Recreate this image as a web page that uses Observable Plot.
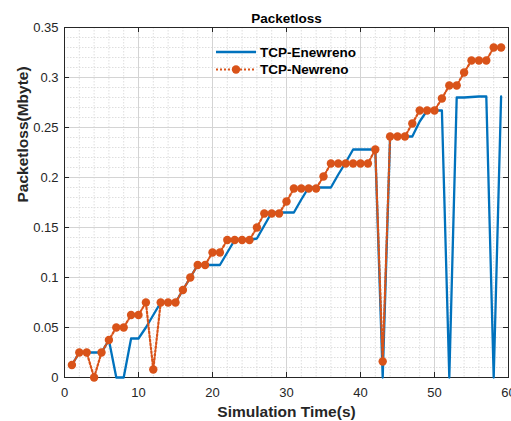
<!DOCTYPE html>
<html><head><meta charset="utf-8">
<script src="https://cdn.jsdelivr.net/npm/d3@7"></script>
<script src="https://cdn.jsdelivr.net/npm/@observablehq/plot@0.6"></script>
<style>
body{margin:0;background:#fff;}
#wrap{position:relative;width:511px;height:421px;}
#legend{position:absolute;left:0;top:0;pointer-events:none;}
</style></head><body><div id="wrap"></div>
<script>
const times = [1,2,3,4,5,6,7,8,9,10,11,12,13,14,15,16,17,18,19,20,21,22,23,24,25,26,27,28,29,30,31,32,33,34,35,36,37,38,39,40,41,42,43,44,45,46,47,48,49,50,51,52,53,54,55,56,57,58,59];
const enewreno = [0.0125,0.025,0.025,0.025,0.025,0.0375,0,0,0.039,0.039,
  0.05,0.0625,0.075,0.075,0.075,0.0875,0.1,0.1125,0.1125,0.1125,
  0.1125,0.125,0.1375,0.1375,0.1375,0.139,0.152,0.165,0.165,0.165,
  0.165,0.178,0.19,0.19,0.19,0.19,0.203,0.215,0.228,0.228,
  0.228,0.228,0,0.241,0.241,0.241,0.241,0.256,0.267,0.267,
  0.267,0,0.28,0.28,0.2805,0.281,0.281,0,0.281];
const newreno = [0.0125,0.025,0.025,0,0.025,0.0375,0.05,0.05,0.0625,0.0625,
  0.075,0.008,0.075,0.075,0.075,0.0875,0.1,0.1125,0.1125,0.125,
  0.125,0.1375,0.1375,0.1375,0.1375,0.15,0.164,0.164,0.164,0.176,
  0.189,0.189,0.189,0.189,0.201,0.214,0.214,0.214,0.214,0.214,
  0.214,0.228,0.016,0.241,0.241,0.241,0.254,0.267,0.267,0.267,
  0.279,0.292,0.292,0.305,0.317,0.317,0.317,0.33,0.33];
const seriesNames = ["TCP-Enewreno","TCP-Newreno"];
const seriesColors = ["#0072BD","#D95319"];
const xTicks = [0,10,20,30,40,50,60];
const yTicks = [0,0.05,0.1,0.15,0.2,0.25,0.3,0.35];
const yTickLabels = ["0","0.05","0.1","0.15","0.2","0.25","0.3","0.35"];
const titleText = "Packetloss";
const xLabel = "Simulation Time(s)";
const yLabel = "Packetloss(Mbyte)";

const xMinor = d3.range(0, 61, 2);
const yMinor = d3.range(0, 36, 1).map(d => d / 100);

const rowsE = times.map((t, i) => ({t, v: enewreno[i]}));
const rowsN = times.map((t, i) => ({t, v: newreno[i]}));

const font = "'Liberation Sans', Arial, Helvetica, sans-serif";
const dotted = "2,2";

const chart = Plot.plot({
  width: 511, height: 421,
  marginLeft: 64, marginRight: 3, marginTop: 27, marginBottom: 44,
  style: {fontFamily: font, fontSize: "13px", color: "#262626", background: "#fff"},
  x: {domain: [0, 60]},
  y: {domain: [0, 0.35]},
  marks: [
    Plot.gridX(xMinor, {stroke: "#dedede", strokeOpacity: 1, strokeDasharray: "1.5,1.5"}),
    Plot.gridY(yMinor, {stroke: "#dedede", strokeOpacity: 1, strokeDasharray: "1.5,1.5"}),
    Plot.gridX(xTicks, {stroke: "#d4d4d4", strokeOpacity: 1}),
    Plot.gridY(yTicks, {stroke: "#d4d4d4", strokeOpacity: 1}),
    Plot.axisX(xTicks, {tickSize: 0, tickPadding: 10, label: null, fill: "#262626"}),
    Plot.axisY(yTicks, {tickSize: 0, tickPadding: 6, label: null, fill: "#262626",
      tickFormat: d => yTickLabels[yTicks.indexOf(d)]}),
    Plot.tickX(xTicks, {x: d => d, insetTop: 345, stroke: "#262626"}),
    Plot.tickX(xTicks, {x: d => d, insetBottom: 345, stroke: "#262626"}),
    Plot.tickY(yTicks, {y: d => d, insetRight: 439, stroke: "#262626"}),
    Plot.tickY(yTicks, {y: d => d, insetLeft: 439, stroke: "#262626"}),
    Plot.frame({stroke: "#262626", strokeWidth: 1}),
    Plot.line(rowsE, {x: "t", y: "v", stroke: seriesColors[0], strokeWidth: 2.3}),
    Plot.line(rowsN, {x: "t", y: "v", stroke: seriesColors[1], strokeWidth: 2.2, strokeDasharray: dotted}),
    Plot.dot(rowsN, {x: "t", y: "v", r: 4.2, fill: seriesColors[1], stroke: null}),
    Plot.text([titleText], {text: d => d, frameAnchor: "top", lineAnchor: "bottom", dy: -5,
      fontWeight: "bold", fontSize: 13.5, fill: "#000"}),
    Plot.text([xLabel], {text: d => d, frameAnchor: "bottom", lineAnchor: "bottom", dy: 39,
      fontWeight: "bold", fontSize: 15.5, fill: "#262626"}),
    Plot.text([yLabel], {text: d => d, frameAnchor: "left", lineAnchor: "bottom", rotate: -90, dx: -37,
      fontWeight: "bold", fontSize: 15.5, fill: "#262626"})
  ]
});

const wrap = document.getElementById("wrap");
wrap.appendChild(chart);

// Legend overlay (transparent, no box)
const leg = d3.select(wrap).append("svg").attr("id", "legend")
  .attr("width", 511).attr("height", 100)
  .style("font-family", font);
const rowsY = [52, 69.5];
seriesNames.forEach((name, i) => {
  const y = rowsY[i];
  const line = leg.append("line").attr("x1", 216).attr("x2", 256).attr("y1", y).attr("y2", y)
    .attr("stroke", seriesColors[i]).attr("stroke-width", i === 0 ? 2.3 : 2.2);
  if (i === 1) {
    line.attr("stroke-dasharray", dotted);
    leg.append("circle").attr("cx", 236).attr("cy", y).attr("r", 4.2).attr("fill", seriesColors[i]);
  }
  leg.append("text").attr("x", 260).attr("y", y + 4.8)
    .attr("font-size", 13.5).attr("font-weight", "bold").attr("fill", "#000").text(name);
});
</script></body></html>
